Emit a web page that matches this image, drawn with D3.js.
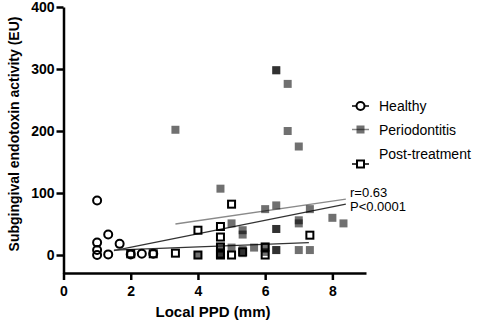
<!DOCTYPE html>
<meta charset="utf-8">
<style>
body { margin: 0; background: #fff; }
text { font-family: Arial, "Liberation Sans", sans-serif; }
.axis path, .axis line { stroke: #000; stroke-width: 2.5; }
.axis text { font-size: 14px; font-weight: bold; fill: #000; }
</style>
<svg width="486" height="327"></svg>
<script src="https://d3js.org/d3.v7.min.js"></script>
<script>

// data (x = local PPD in mm, y = endotoxin in EU)
var healthyX = [1, 1, 1, 1, 1.33, 1.33, 1.67, 2, 2.33, 2.67];
var healthyY = [88, 20, 8, 0, 33, 1, 18, 1, 2, 2];

var perioX = [3.33, 4, 4.67, 4.67, 4.67, 4.67, 5, 5, 5.33, 5.33, 5.33, 5.33, 5.67,
              6, 6, 6, 6.33, 6.33, 6.33, 6.33, 6.33, 6.33, 6.33, 6.67, 6.67,
              7, 7, 7, 7, 7.33, 7.33, 8, 8.33];
var perioY = [202, 0, 107, 12, 5, 0, 51, 12, 40, 33, 8, 3, 12,
              74, 13, 5, 298, 298, 80, 42, 42, 8, 8, 276, 200,
              175, 56, 51, 8, 74, 8, 60, 51];

var postX = [2, 2.67, 3.33, 4, 4, 4.67, 4.67, 4.67, 4.67, 4.67, 5, 5, 5.33, 6, 6, 7.33];
var postY = [2, 2, 3, 40, 0, 46, 29, 13, 2, 0, 82, 0, 5, 13, 0, 32];

// fitted lines (end points)
var fitPerioX = [3.33, 8.4],  fitPerioY = [50, 90];
var fitAllX   = [1.5, 8.4],   fitAllY   = [7, 82];
var fitPostX  = [1.5, 7.3],   fitPostY  = [8, 20];

var xTicks = [0, 2, 4, 6, 8];
var yTicks = [0, 100, 200, 300, 400];
var seriesNames = ["Healthy", "Periodontitis", "Post-treatment"];

var svg = d3.select("svg");

var x = d3.scaleLinear().domain([0, 9]).range([63.5, 366]);
var y = d3.scaleLinear().domain([-29, 400]).range([273, 7]);

// fit lines first, markers on top
var fits = [
  {xs: fitPerioX, ys: fitPerioY, color: "#8a8a8a"},
  {xs: fitAllX, ys: fitAllY, color: "#333"},
  {xs: fitPostX, ys: fitPostY, color: "#333"}
];
svg.selectAll(".fit").data(fits).enter().append("line")
  .attr("class", "fit")
  .attr("x1", function(d) { return x(d.xs[0]); })
  .attr("y1", function(d) { return y(d.ys[0]); })
  .attr("x2", function(d) { return x(d.xs[1]); })
  .attr("y2", function(d) { return y(d.ys[1]); })
  .attr("stroke", function(d) { return d.color; })
  .attr("stroke-width", 1.3);

var sq = 8;

// periodontitis: translucent grey squares
svg.append("g").selectAll("rect").data(d3.range(perioX.length)).enter().append("rect")
  .attr("x", function(i) { return x(perioX[i]) - sq / 2; })
  .attr("y", function(i) { return y(perioY[i]) - sq / 2; })
  .attr("width", sq).attr("height", sq)
  .attr("fill", "#000").attr("fill-opacity", 0.56);

// post-treatment: open squares
svg.append("g").selectAll("rect").data(d3.range(postX.length)).enter().append("rect")
  .attr("x", function(i) { return x(postX[i]) - sq / 2 + 0.5; })
  .attr("y", function(i) { return y(postY[i]) - sq / 2 + 0.5; })
  .attr("width", sq - 1).attr("height", sq - 1)
  .attr("fill", "none").attr("stroke", "#000").attr("stroke-width", 2);

// healthy: open circles
svg.append("g").selectAll("circle").data(d3.range(healthyX.length)).enter().append("circle")
  .attr("cx", function(i) { return x(healthyX[i]); })
  .attr("cy", function(i) { return y(healthyY[i]); })
  .attr("r", 4)
  .attr("fill", "none").attr("stroke", "#000").attr("stroke-width", 2);

// axes
svg.append("g").attr("class", "axis")
  .attr("transform", "translate(0,273)")
  .call(d3.axisBottom(x).tickValues(xTicks).tickSize(7).tickSizeOuter(0).tickPadding(6));

svg.append("g").attr("class", "axis")
  .attr("transform", "translate(63.5,0)")
  .call(d3.axisLeft(y).tickValues(yTicks).tickSize(7).tickSizeOuter(0).tickPadding(2));

// axis titles
svg.append("text")
  .attr("x", 213).attr("y", 317)
  .attr("text-anchor", "middle")
  .style("font-size", "15px").style("font-weight", "bold")
  .text("Local PPD (mm)");

svg.append("text")
  .attr("transform", "translate(19,134) rotate(-90)")
  .attr("text-anchor", "middle")
  .style("font-size", "14px").style("font-weight", "bold")
  .text("Subgingival endotoxin activity (EU)");

// correlation text
svg.append("text").attr("x", 350).attr("y", 197)
  .style("font-size", "13px").text("r=0.63");
svg.append("text").attr("x", 350).attr("y", 211)
  .style("font-size", "13px").text("P<0.0001");

// legend
var legSymY = [106, 129.5, 164];
var legTextY = [110.5, 135, 158.5];
var leg = svg.append("g");
leg.selectAll("line").data(seriesNames).enter().append("line")
  .attr("x1", 352).attr("x2", 369)
  .attr("y1", function(d, i) { return legSymY[i]; })
  .attr("y2", function(d, i) { return legSymY[i]; })
  .attr("stroke", function(d, i) { return i == 1 ? "#888" : "#000"; })
  .attr("stroke-width", 1.5);
leg.append("circle").attr("cx", 360.5).attr("cy", legSymY[0]).attr("r", 4)
  .attr("fill", "#fff").attr("stroke", "#000").attr("stroke-width", 2);
leg.append("rect").attr("x", 356.5).attr("y", legSymY[1] - 4).attr("width", 8).attr("height", 8)
  .attr("fill", "#000").attr("fill-opacity", 0.56);
leg.append("rect").attr("x", 357).attr("y", legSymY[2] - 3.5).attr("width", 7).attr("height", 7)
  .attr("fill", "#fff").attr("stroke", "#000").attr("stroke-width", 2);
leg.selectAll("text").data(seriesNames).enter().append("text")
  .attr("x", 379)
  .attr("y", function(d, i) { return legTextY[i]; })
  .style("font-size", "14px")
  .text(function(d) { return d; });

</script>
